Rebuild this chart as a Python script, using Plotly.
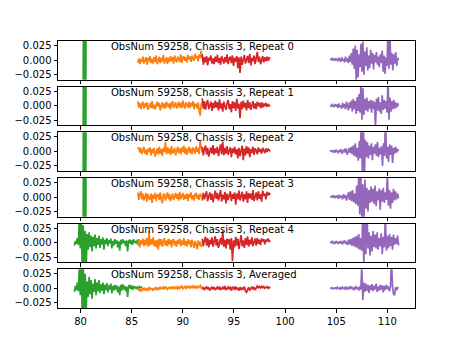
import numpy as np
import plotly.graph_objects as go
from plotly.subplots import make_subplots

# panel titles
titles = ["ObsNum 59258, Chassis 3, Repeat 0", "ObsNum 59258, Chassis 3, Repeat 1",
          "ObsNum 59258, Chassis 3, Repeat 2", "ObsNum 59258, Chassis 3, Repeat 3",
          "ObsNum 59258, Chassis 3, Repeat 4", "ObsNum 59258, Chassis 3, Averaged"]

# x extent of each segment
green_short_x = (80.25, 80.55)
green_long_x = (79.4, 86.05)
orange_x = (85.6, 91.9)
red_x = (91.9, 98.55)
purple_x = (104.4, 111.1)

# values in units of 0.001
green_short = [-90, 90, -90, 90, -90, 90, -90, 90]

orange0 = [-4,3,-7,2,-3,6,-6,1,5,-8,4,-2,7,-5,2,-6,5,-3,8,-7,1,6,-5,4,-2,9,-6,2,5,-7,4,-3,7,-2,5,-6,8,1,-4,6,2,-3,10,-5,4,7,-1,5,-4,9,1,6,-3,8,2,-1,11,3,7,-2,10,4,16,3]
red0 = [10,-8,5,-4,7,-9,4,-1,8,-6,3,-7,6,-3,9,-5,4,-8,7,-1,-6,5,-4,10,-7,3,6,-5,8,-10,4,-3,7,-14,5,-22,6,-8,4,9,-6,1,7,-5,11,-9,4,-2,8,-7,5,14,-3,6,-7,3,7,-4,5,-2,6,-1,4,2]
purple0 = [2,1,3,0,2,-1,3,1,-2,4,0,-3,5,-1,2,-4,6,-2,3,-5,8,-3,12,-8,20,-15,25,-34,18,-30,10,-12,28,-20,32,-25,15,-10,22,-18,8,-14,18,-6,12,-16,9,-4,14,-8,6,-12,10,-5,16,-20,8,-24,5,-10,60,-15,40,-8,12,-18,10,-6,14,-10,4,0]

orange1 = [8,-3,5,-6,2,7,-5,4,-2,6,-7,1,5,-4,8,-5,2,-6,4,7,-2,5,-8,1,6,-4,4,-5,7,2,-3,5,-6,3,8,-4,1,6,-5,2,7,-3,5,-4,9,1,-5,6,2,-3,7,-4,5,-1,8,-6,4,2,-5,6,-8,-17,3,6]
red1 = [13,-5,8,-7,4,10,-6,3,7,-9,5,-4,9,-3,6,-8,11,-5,4,-10,7,-1,-7,5,10,-6,3,-11,8,-4,6,-9,12,-5,4,-21,7,-6,9,-3,5,-8,10,-4,6,-7,3,8,-5,4,-6,7,-1,5,-4,6,-3,4,-1,5,-2,3,0,-1]
purple1 = [1,-1,2,0,-2,3,-1,2,-4,4,-2,1,-5,5,-3,3,-6,7,-2,-8,6,-4,9,-10,12,-6,8,-14,15,-9,20,-12,40,-24,30,-16,12,-8,14,-10,8,-5,10,-12,9,-6,7,-40,12,-8,15,-10,6,-14,18,-7,10,-5,8,-12,50,-24,14,-10,8,-6,10,-5,6,-3,4,0]

orange2 = [4,7,-2,6,-5,4,8,-4,3,-6,5,-1,7,-7,4,-3,6,-9,2,5,-5,8,-4,4,-8,6,-1,16,-5,7,-3,5,-6,9,-4,3,6,-7,4,8,-3,5,-5,7,-1,10,-4,6,-6,4,8,-3,5,-5,7,2,-4,9,-1,6,-5,19,3,-2]
red2 = [8,-7,4,10,-5,6,-9,3,7,-4,11,-6,5,-3,8,-8,4,12,-5,17,-7,6,-4,9,-6,3,7,-10,5,-3,8,-5,4,-12,6,-8,3,10,-15,5,-7,9,-4,7,-10,4,-3,8,-6,5,2,-5,7,-1,4,-4,6,2,-3,5,-1,4,2,0]
purple2 = [2,0,1,-1,2,-2,3,0,-3,2,-1,4,-4,1,3,-2,5,-6,2,6,-3,8,-5,10,-8,14,-10,6,-16,18,-12,60,-40,50,-45,20,-10,16,-12,10,-6,14,-15,8,-4,12,-8,16,-10,6,-5,9,-25,14,-8,60,-12,8,-18,12,-6,10,-20,6,-4,8,-2,4,1]

orange3 = [8,-5,4,10,-4,6,-6,3,7,-8,5,-1,-5,6,-10,4,-3,7,-7,3,5,-5,8,-4,-11,4,6,-6,3,8,-4,5,-7,1,6,-5,4,7,-3,5,-6,9,-4,3,7,-5,4,-3,6,-7,5,-1,8,-4,3,-6,5,7,-3,4,-5,6,1,2]
red3 = [-6,7,-4,5,10,-7,3,8,-5,6,-9,4,11,-3,7,-6,5,12,-8,4,-4,9,-11,6,-5,3,10,-7,5,-3,8,-13,6,-4,11,-6,3,9,-8,5,-4,10,-10,7,-2,6,-5,12,-7,4,8,-6,10,-3,5,-8,11,2,6,-4,9,3,7,4]
purple3 = [1,0,2,-1,3,-2,1,2,-3,4,-1,2,-4,5,-2,3,-6,4,8,-5,10,-7,12,-9,6,-12,20,-15,35,-30,45,-40,22,-45,30,-20,16,-25,12,-10,18,-8,14,-12,20,-16,10,-6,15,-22,12,-8,16,-10,8,-5,40,-15,12,-20,8,-10,14,-6,10,-4,6,-2]

green4 = [-5,3,-2,8,-4,40,-10,45,-50,30,-45,20,-40,15,-12,18,-8,12,-15,10,-6,14,-10,8,-4,12,-9,6,-3,9,-12,5,-2,8,-6,4,-1,7,-10,3,-5,6,-2,4,-8,2,-14,5,-3,6,-1,3,-6,4,-15,2,5,-2,4,-4,6,0,3,-2,5,-1,3,0,2,1]
orange4 = [-5,6,-8,4,-3,7,-6,5,-4,8,-7,20,-5,6,-3,9,-6,4,-8,5,-12,7,-4,6,-7,3,8,-5,4,-6,7,-3,5,-8,4,6,-5,3,-7,5,-2,7,-6,4,-4,8,-5,3,-7,6,-3,4,-8,5,-5,-9,3,-6,-11,4,-5,2,-7,-3]
red4 = [7,-6,4,10,-5,8,-8,5,-3,9,-7,4,11,-5,6,-9,3,8,-4,20,-7,5,-10,7,-3,6,-12,8,-32,4,-8,10,-5,7,-11,5,13,-6,4,-9,8,-4,11,-7,5,-3,9,-6,4,7,-5,8,-2,5,-4,7,2,6,-3,5,3,7,2,4]
purple4 = [1,0,2,-1,1,-2,3,0,-2,2,-1,3,-3,1,4,-2,2,-4,5,-3,6,-5,8,-6,10,-8,12,-10,15,-12,8,-14,50,-40,45,-20,60,-10,18,-22,12,-15,20,-8,14,-10,18,-12,8,-6,16,-20,10,-8,45,-14,12,-10,15,-6,10,-12,14,-4,8,-2,12,-5]

green5 = [-6,4,-3,10,-5,35,-12,50,-50,40,-45,25,-35,12,-15,20,-10,14,-18,8,-6,16,-12,10,-5,14,-8,7,-4,10,-10,6,-3,9,-7,5,-2,8,-9,4,-4,6,-2,5,-7,3,-12,6,-4,7,-2,4,-5,3,-15,3,6,-1,5,-3,4,0,3,-1,2,0,3,1,2,1]
orange5 = [-4,-1,-5,-2,-4,0,-3,1,-4,-1,-3,2,-3,0,-1,-4,1,-2,2,-3,1,-2,3,-1,0,2,-2,3,0,-2,2,-1,3,-1,2,-1,3,0,2,-2,3,0,2,4,-1,2,3,0,3,1,4,0,3,1,4,1,3,0,4,1,3,5,1,3]
red5 = [-2,2,-3,1,3,-2,2,-4,0,3,-2,2,-3,1,2,-2,3,-3,1,2,-2,4,-3,0,2,-2,3,-4,1,2,-3,3,-2,1,-4,2,-3,1,-2,3,-5,-7,-3,2,-4,1,3,-2,2,-3,1,4,1,3,0,4,1,3,0,2,3,0,2,0]
purple5 = [1,0,1,-1,0,1,-1,2,0,-1,1,-2,2,0,-1,3,-1,1,-2,2,0,3,-2,1,-3,4,-1,2,-4,3,-2,40,-20,10,-6,8,-4,6,-8,5,-3,7,-5,4,-2,8,-6,3,-4,6,-2,5,-7,4,-3,6,-1,3,-5,2,50,4,-10,-12,2,-3,1,0]

greens = [(green_short_x, green_short)] * 4 + [(green_long_x, green4), (green_long_x, green5)]
oranges = [orange0, orange1, orange2, orange3, orange4, orange5]
reds = [red0, red1, red2, red3, red4, red5]
purples = [purple0, purple1, purple2, purple3, purple4, purple5]

C_GREEN, C_ORANGE, C_RED, C_PURPLE = "#2ca02c", "#ff7f0e", "#d62728", "#9467bd"

W, H = 461, 346
L, R, T, B = 58, 46, 41, 38
fig = make_subplots(rows=6, cols=1, shared_xaxes=True, vertical_spacing=0.0255)

def seg(rng, vals):
    x = np.linspace(rng[0], rng[1], len(vals))
    y = np.array(vals) * 0.001
    return x, y

for i in range(6):
    row = i + 1
    for (rng, vals), color in [(greens[i], C_GREEN), ((orange_x, oranges[i]), C_ORANGE),
                                ((red_x, reds[i]), C_RED), ((purple_x, purples[i]), C_PURPLE)]:
        x, y = seg(rng, vals)
        fig.add_trace(go.Scatter(x=x, y=y, mode="lines", line=dict(color=color, width=1.7),
                                 showlegend=False, hoverinfo="skip"), row=row, col=1)
    fig.update_yaxes(range=[-0.034, 0.033], tickvals=[-0.025, 0, 0.025], tickformat=".3f",
                     row=row, col=1)
    fig.update_xaxes(range=[77.8, 112.7], tickvals=[80, 85, 90, 95, 100, 105, 110],
                     showticklabels=(row == 6), row=row, col=1)
    yref = "y domain" if row == 1 else f"y{row} domain"
    xref = "x domain" if row == 1 else f"x{row} domain"
    fig.add_annotation(text=titles[i], xref=xref, yref=yref, x=0.143, y=1.0,
                       xanchor="left", yanchor="top", showarrow=False, yshift=2,
                       font=dict(size=10, color="black"))

axis_style = dict(showline=True, linecolor="black", linewidth=1, mirror=True, ticks="outside",
                  ticklen=3.5, tickwidth=1, tickcolor="black", showgrid=False, zeroline=False,
                  tickfont=dict(size=10, color="black"))
fig.update_xaxes(**axis_style)
fig.update_yaxes(**axis_style)
fig.update_layout(width=W, height=H, margin=dict(l=L, r=R, t=T, b=B),
                  paper_bgcolor="white", plot_bgcolor="white",
                  font=dict(family="DejaVu Sans", size=10, color="black"))
fig.write_html("out.html")
